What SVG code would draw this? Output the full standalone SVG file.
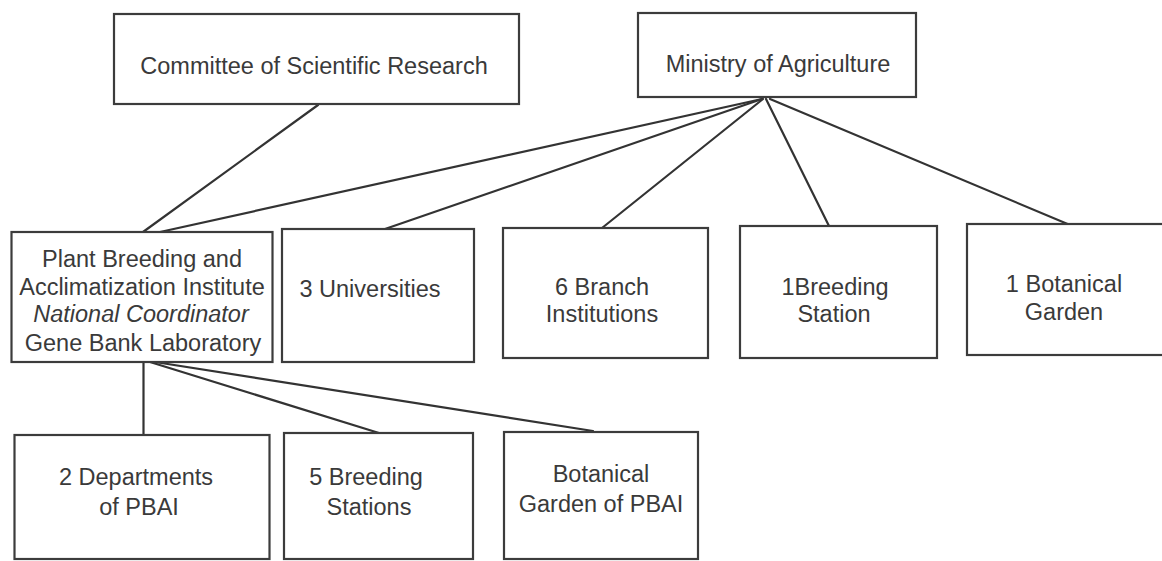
<svg xmlns="http://www.w3.org/2000/svg" width="1162" height="561" viewBox="0 0 1162 561">
<style>
.box{fill:#fff;stroke:#3c3c3c;stroke-width:2.2}
.lbl{font-family:"Liberation Sans",Arial,sans-serif;font-size:23.5px;fill:#3a3a3a;text-anchor:middle}
.it{font-style:italic}
.con line{stroke:#333;stroke-width:2.2;stroke-linecap:round}
</style>
<rect width="1162" height="561" fill="#fff"/>
<g id="connectors" class="con">
<line x1="318" y1="105" x2="143" y2="232"/>
<line x1="762" y1="99" x2="160" y2="232"/>
<line x1="762" y1="99" x2="385" y2="229"/>
<line x1="763" y1="99" x2="602" y2="228"/>
<line x1="766" y1="99" x2="829" y2="226"/>
<line x1="770" y1="99" x2="1070" y2="225"/>
<line x1="143.5" y1="362" x2="143.5" y2="435"/>
<line x1="150" y1="362" x2="379" y2="433"/>
<line x1="155" y1="362" x2="593" y2="431"/>
</g>
<g id="committee">
<rect class="box" x="114" y="14" width="405" height="90"/>
<text class="lbl" x="314" y="74">Committee of Scientific Research</text>
</g>
<g id="ministry">
<rect class="box" x="638" y="13" width="278" height="84"/>
<text class="lbl" x="778" y="72">Ministry of Agriculture</text>
</g>
<g id="pbai">
<rect class="box" x="11.5" y="232" width="261" height="130"/>
<text class="lbl" x="142" y="267">Plant Breeding and</text>
<text class="lbl" x="142" y="295">Acclimatization Institute</text>
<text class="lbl it" x="141" y="322">National Coordinator</text>
<text class="lbl" x="143" y="351">Gene Bank Laboratory</text>
</g>
<g id="universities">
<rect class="box" x="282" y="229" width="192" height="133"/>
<text class="lbl" x="370" y="297">3 Universities</text>
</g>
<g id="branch">
<rect class="box" x="503" y="228" width="205" height="130"/>
<text class="lbl" x="602" y="295">6 Branch</text>
<text class="lbl" x="602" y="322">Institutions</text>
</g>
<g id="breeding1">
<rect class="box" x="740" y="226" width="197" height="132"/>
<text class="lbl" x="835" y="295">1Breeding</text>
<text class="lbl" x="834" y="322">Station</text>
</g>
<g id="botanical1">
<rect class="box" x="967" y="224" width="198" height="131"/>
<text class="lbl" x="1064" y="292">1 Botanical</text>
<text class="lbl" x="1064" y="320">Garden</text>
</g>
<g id="departments">
<rect class="box" x="14.5" y="435" width="255" height="124"/>
<text class="lbl" x="136" y="485">2 Departments</text>
<text class="lbl" x="139" y="515">of PBAI</text>
</g>
<g id="breeding5">
<rect class="box" x="284" y="433" width="189" height="126"/>
<text class="lbl" x="366" y="485">5 Breeding</text>
<text class="lbl" x="369" y="515">Stations</text>
</g>
<g id="botanical-pbai">
<rect class="box" x="504" y="432" width="194" height="127"/>
<text class="lbl" x="601" y="482">Botanical</text>
<text class="lbl" x="601" y="512">Garden of PBAI</text>
</g>
</svg>
